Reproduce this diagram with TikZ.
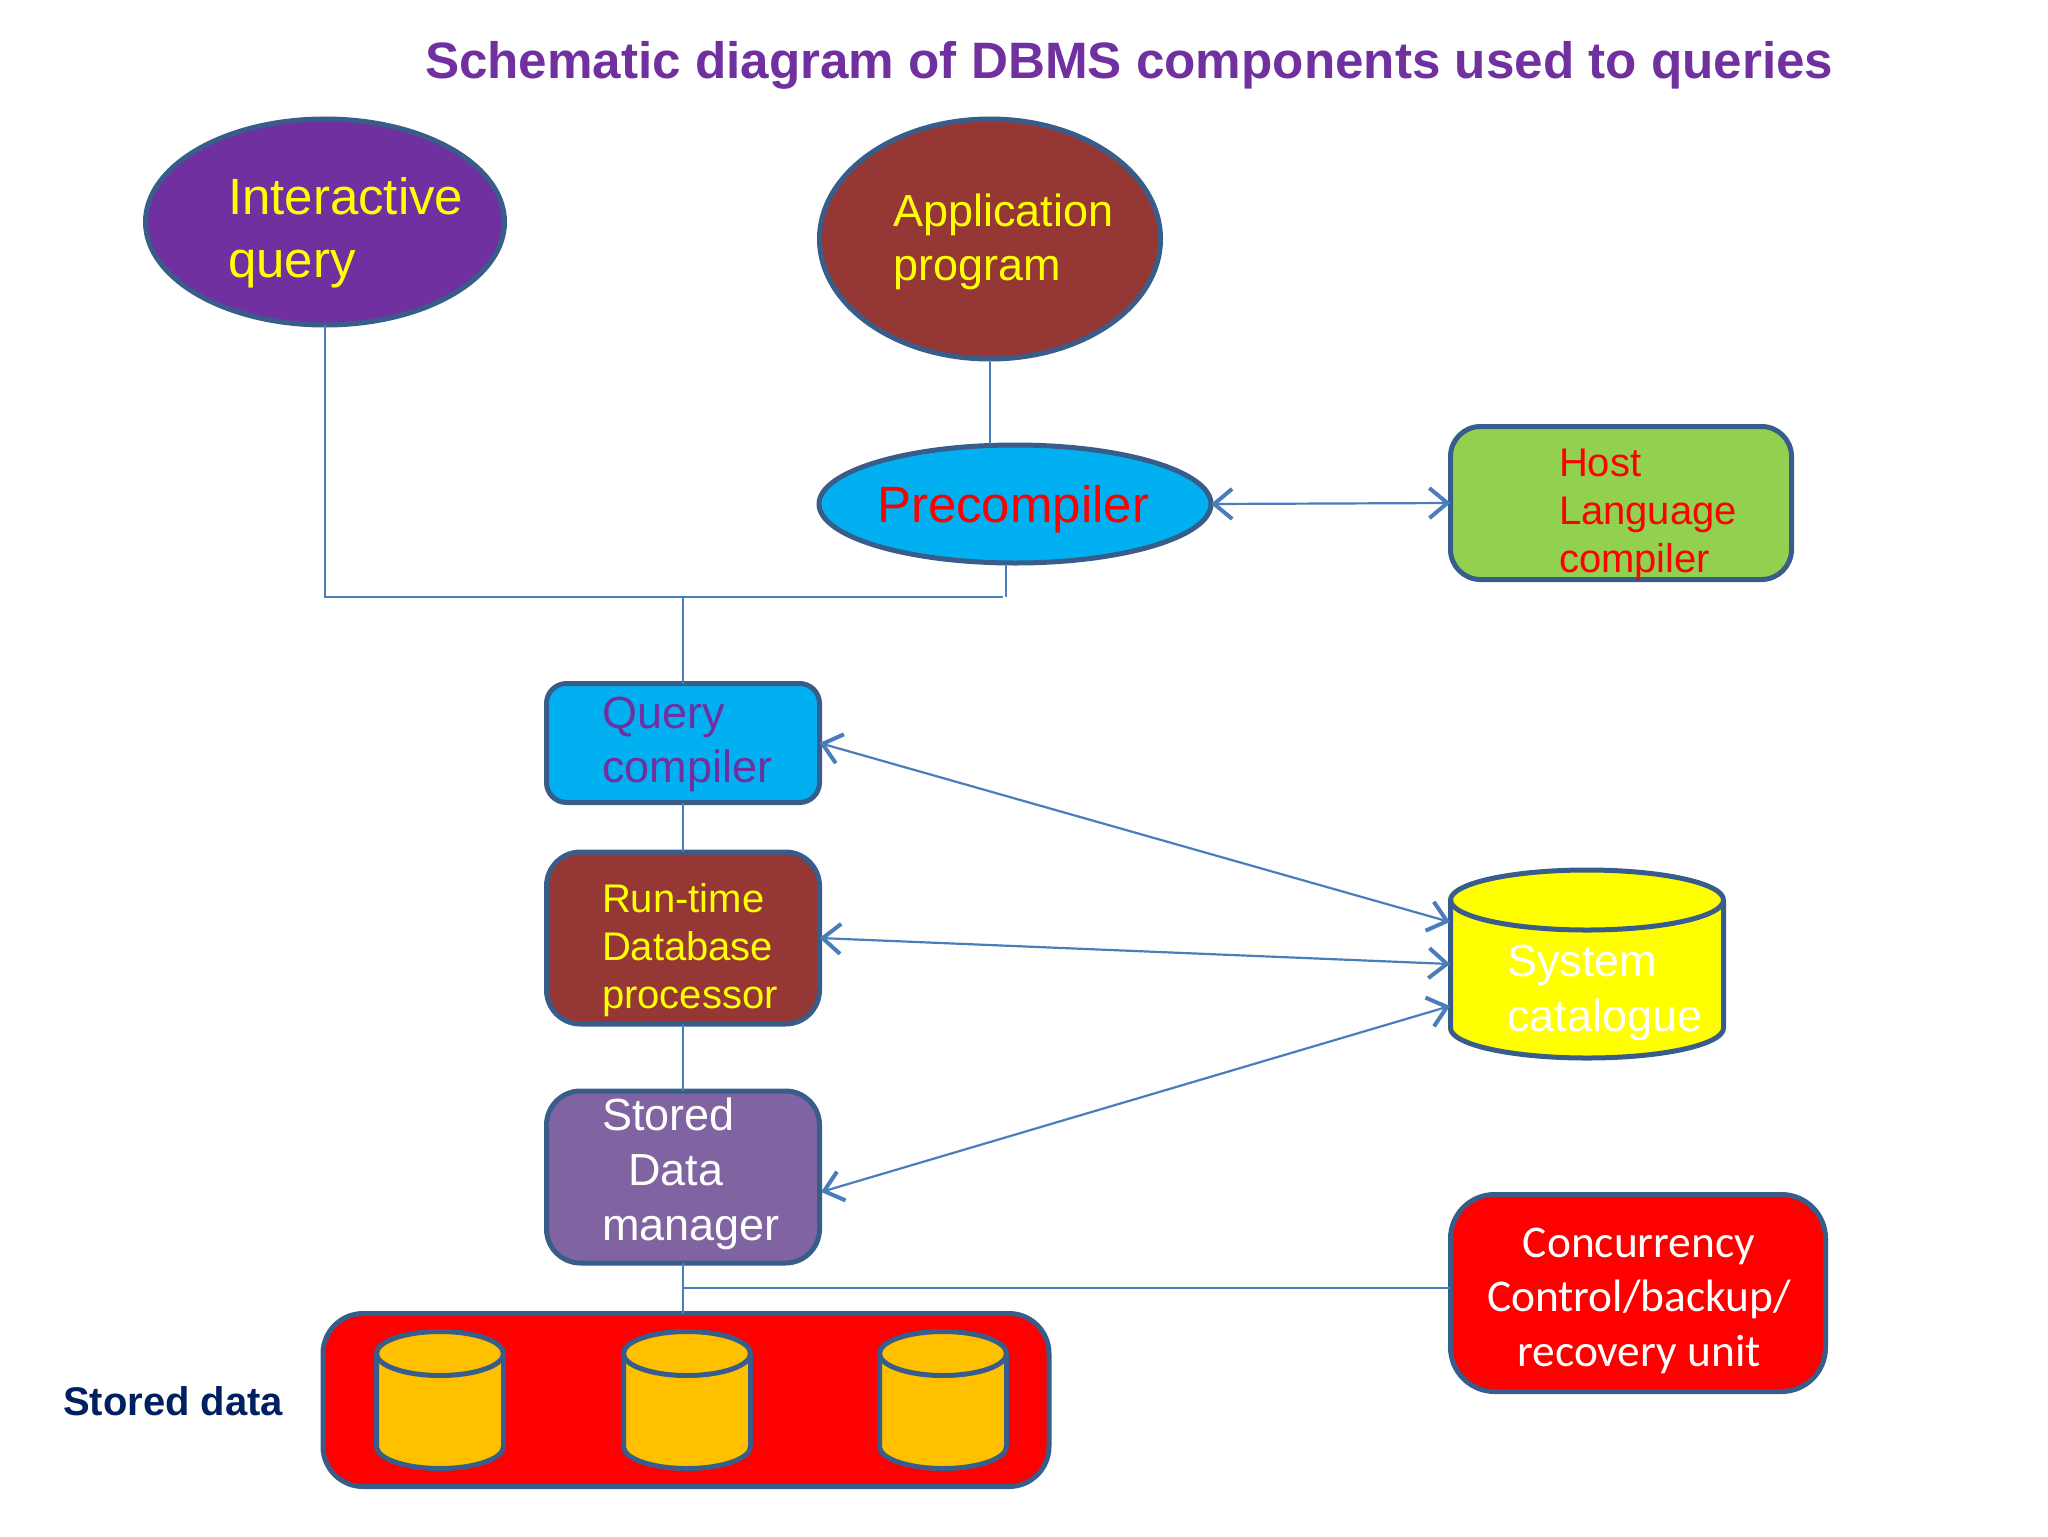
\documentclass[tikz,border=0pt]{standalone}
\usepackage{fontspec}
\setmainfont{Liberation Sans}
\newfontfamily\calfont{Carlito}
\usetikzlibrary{shapes.geometric,arrows.meta}
\definecolor{edge}{HTML}{385D8A}
\definecolor{wire}{HTML}{4A7EBB}
\definecolor{cPurple}{HTML}{7030A0}
\definecolor{cBrown}{HTML}{953735}
\definecolor{cBlue}{HTML}{00B0F0}
\definecolor{cGreen}{HTML}{92D050}
\definecolor{cViolet}{HTML}{8064A2}
\definecolor{cOrange}{HTML}{FFC000}
\definecolor{cNavy}{HTML}{002060}
\definecolor{cYellow}{rgb}{1,1,0}
\tikzset{
  box/.style={draw=edge,line width=2.5pt,inner sep=0pt,outer sep=0pt},
  oval/.style={box,ellipse},
  txt/.style={inner sep=0pt,outer sep=0pt,anchor=base west,align=left},
  wireline/.style={draw=wire,line width=1.1pt},
  biarrow/.style={wireline,{Straight Barb[length=9pt,width=15pt,line width=2pt]}-{Straight Barb[length=9pt,width=15pt,line width=2pt]}},
}
\newcommand{\fsz}[2]{\fontsize{#1pt}{#2pt}\selectfont}
% \drum{name}{x}{y}{width pt}{height pt}{half width pt}{cap radius pt}{colour}
\newcommand{\drum}[8]{%
  \node[inner sep=0pt,outer sep=0pt,minimum width=#4pt,minimum height=#5pt] (#1) at (#2,#3) {};
  \path[box,fill=#8,line join=round] ([yshift=-#7pt]#1.north west)
    arc[start angle=180,end angle=0,x radius=#6pt,y radius=#7pt]
    -- ([yshift=#7pt]#1.south east)
    arc[start angle=360,end angle=180,x radius=#6pt,y radius=#7pt] -- cycle;
  \draw[box] ([yshift=-#7pt]#1.north west)
    arc[start angle=180,end angle=360,x radius=#6pt,y radius=#7pt];
}
\begin{document}
\begin{tikzpicture}[x=0.5pt,y=-0.5pt]
\useasboundingbox (0,0) rectangle (2048,1536);
% shapes
\node[oval,fill=cPurple,minimum width=179.5pt,minimum height=103pt] (inter) at (325,222) {};
\node[oval,fill=cBrown,minimum width=170.5pt,minimum height=120pt] (app) at (990,239) {};
\node[oval,fill=cBlue,minimum width=196pt,minimum height=59pt] (pre) at (1015,504) {};
\node[box,fill=cGreen,rounded corners=15pt,minimum width=170.5pt,minimum height=76.5pt] (host) at (1621,503) {};
\node[box,fill=cBlue,rounded corners=10pt,minimum width=136.5pt,minimum height=59.5pt] (qc) at (683,743) {};
\node[box,fill=cBrown,rounded corners=17pt,minimum width=136.5pt,minimum height=86pt] (rt) at (683,938) {};
\node[box,fill=cViolet,rounded corners=17pt,minimum width=136.5pt,minimum height=86pt] (sm) at (683,1177) {};
\node[box,fill=red,rounded corners=20pt,minimum width=363pt,minimum height=86.5pt] (store) at (686,1400) {};
\node[box,fill=red,rounded corners=22pt,minimum width=187.5pt,minimum height=98.5pt] (conc) at (1638,1293) {};
\drum{cat}{1587}{964}{136.5}{94}{68.25}{15}{cYellow}
\drum{d1}{440}{1400}{63.5}{68.5}{31.75}{11}{cOrange}
\drum{d2}{687}{1400}{63.5}{68.5}{31.75}{11}{cOrange}
\drum{d3}{943}{1400}{63.5}{68.5}{31.75}{11}{cOrange}
% free ends of the connectors
\coordinate (jtop) at (683,597);
\coordinate (jleft) at (inter.south |- jtop);
\coordinate (jright) at (1003,597);
\coordinate (preEnd) at (1006,597);
\coordinate (preOut) at (1006,564);
\coordinate (appOut) at (989.6,360);
\coordinate (preIn) at (989.6,444);
\coordinate (jlow) at (683,1288);
\coordinate (concIn) at (1450,1288);
\coordinate (c1) at (1450,922);
\coordinate (c2) at (1450,964);
\coordinate (c3) at (1450,1006);
\coordinate (smR) at (821,1192);
% connectors
\draw[wireline] (inter.south) -- (jleft) -- (jright);
\draw[wireline] (appOut) -- (preIn);
\draw[wireline] (preOut) -- (preEnd);
\draw[wireline] (jtop) -- (qc.north);
\draw[wireline] (qc.south) -- (rt.north);
\draw[wireline] (rt.south) -- (sm.north);
\draw[wireline] (sm.south) -- (store.north -| sm.south);
\draw[wireline] (jlow) -- (concIn);
\draw[biarrow] (pre.east) -- (host.west);
\draw[biarrow] (qc.east) -- (c1);
\draw[biarrow] (rt.east) -- (c2);
\draw[biarrow] (smR) -- (c3);
% labels (a multi-line node's base is its last line)
\node[txt,text=cPurple,font=\bfseries\fsz{25.6}{29}] (title) at (425,79) {Schematic diagram of DBMS components used to queries};
\node[txt,text=cYellow,font=\fsz{25.5}{31.5}] (tinter) at (228,277) {Interactive\\query};
\node[txt,text=cYellow,font=\fsz{22.5}{27}] (tapp) at (893,280) {Application\\program};
\node[txt,text=red,font=\fsz{25.5}{30}] (tpre) at (877,522) {Precompiler};
\node[txt,text=red,font=\fsz{20}{24}] (thost) at (1559,572) {Host\\Language\\compiler};
\node[txt,text=cPurple,font=\fsz{22.5}{27}] (tqc) at (602,782) {Query\\compiler};
\node[txt,text=cYellow,font=\fsz{20}{24}] (trt) at (602,1008) {Run-time\\Database\\processor};
\node[txt,text=white,font=\fsz{22.5}{27.5}] (tsm) at (602,1240) {Stored\\\hspace*{13pt}Data\\manager};
\node[txt,text=cNavy,font=\bfseries\fsz{20}{24}] (tstore) at (63,1415) {Stored data};
\node[txt,text=white,font=\fsz{22.5}{27.5}] (tcat) at (1507,1031) {System\\catalogue};
\node[inner sep=0pt,outer sep=0pt,anchor=base,align=center,text=white,font=\calfont\fsz{22.7}{27.2}] (tconc) at (1639,1366) {Concurrency\\Control/backup/\\recovery unit};
\end{tikzpicture}
\end{document}
